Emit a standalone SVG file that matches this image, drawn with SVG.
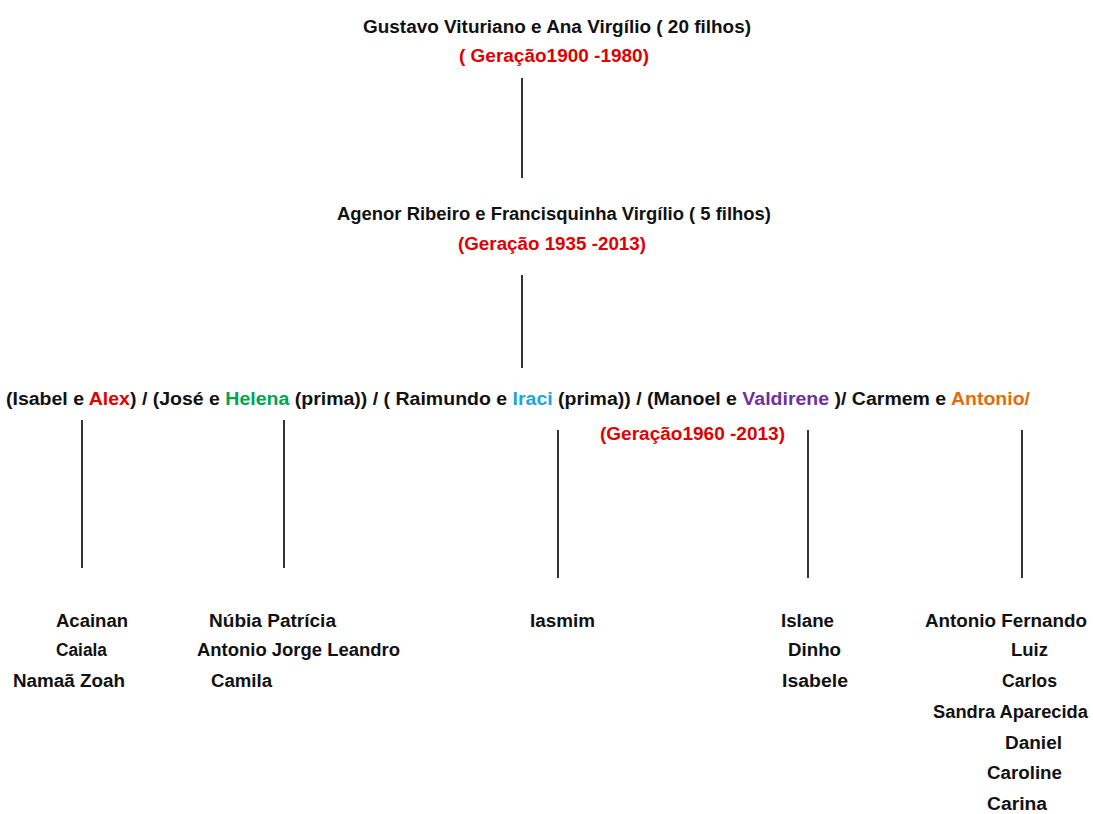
<svg xmlns="http://www.w3.org/2000/svg" width="1093" height="814" viewBox="0 0 1093 814">
<style>
text{font-family:"Liberation Sans",Arial,sans-serif;font-weight:bold;font-size:18px;fill:#111}
.red{fill:#e00000}
.green{fill:#00a550}
.cyan{fill:#1aa6d8}
.purple{fill:#7030a0}
.orange{fill:#e36c09}
.conn line{stroke:#000;stroke-width:1.6}
</style>
<rect width="1093" height="814" fill="#fff"/>
<g class="conn" id="connectors">
<line x1="522" y1="78" x2="522" y2="178"/>
<line x1="522" y1="275" x2="522" y2="368"/>
<line x1="82" y1="420" x2="82" y2="568"/>
<line x1="284" y1="420" x2="284" y2="568"/>
<line x1="558" y1="430" x2="558" y2="578"/>
<line x1="808" y1="430" x2="808" y2="578"/>
<line x1="1022" y1="430" x2="1022" y2="578"/>
</g>
<g id="gen1">
<text x="363" y="33" textLength="388" lengthAdjust="spacingAndGlyphs">Gustavo Vituriano e Ana Virgílio ( 20 filhos)</text>
<text class="red" x="459" y="62" textLength="190" lengthAdjust="spacingAndGlyphs">( Geração1900 -1980)</text>
</g>
<g id="gen2">
<text x="337" y="220" textLength="434" lengthAdjust="spacingAndGlyphs">Agenor Ribeiro e Francisquinha Virgílio ( 5 filhos)</text>
<text class="red" x="458" y="250" textLength="188" lengthAdjust="spacingAndGlyphs">(Geração 1935 -2013)</text>
</g>
<g id="gen3">
<text x="6" y="405" textLength="1024" lengthAdjust="spacingAndGlyphs">(Isabel e <tspan class="red">Alex</tspan>) / (José e <tspan class="green">Helena</tspan> (prima)) / ( Raimundo e <tspan class="cyan">Iraci</tspan> (prima)) / (Manoel e <tspan class="purple">Valdirene</tspan> )/ Carmem e <tspan class="orange">Antonio/</tspan></text>
<text class="red" x="600" y="440" textLength="185" lengthAdjust="spacingAndGlyphs">(Geração1960 -2013)</text>
</g>
<g id="children-isabel-alex">
<text x="56" y="627" textLength="72" lengthAdjust="spacingAndGlyphs">Acainan</text>
<text x="56" y="656" textLength="51" lengthAdjust="spacingAndGlyphs">Caiala</text>
<text x="13" y="687" textLength="112" lengthAdjust="spacingAndGlyphs">Namaã Zoah</text>
</g>
<g id="children-jose-helena">
<text x="209" y="627" textLength="127" lengthAdjust="spacingAndGlyphs">Núbia Patrícia</text>
<text x="197" y="656" textLength="203" lengthAdjust="spacingAndGlyphs">Antonio Jorge Leandro</text>
<text x="211" y="687" textLength="61" lengthAdjust="spacingAndGlyphs">Camila</text>
</g>
<g id="children-raimundo-iraci">
<text x="530" y="627" textLength="65" lengthAdjust="spacingAndGlyphs">Iasmim</text>
</g>
<g id="children-manoel-valdirene">
<text x="781" y="627" textLength="53" lengthAdjust="spacingAndGlyphs">Islane</text>
<text x="788" y="656" textLength="53" lengthAdjust="spacingAndGlyphs">Dinho</text>
<text x="782" y="687" textLength="66" lengthAdjust="spacingAndGlyphs">Isabele</text>
</g>
<g id="children-carmem-antonio">
<text x="925" y="627" textLength="162" lengthAdjust="spacingAndGlyphs">Antonio Fernando</text>
<text x="1011" y="656" textLength="37" lengthAdjust="spacingAndGlyphs">Luiz</text>
<text x="1002" y="687" textLength="55" lengthAdjust="spacingAndGlyphs">Carlos</text>
<text x="933" y="718" textLength="155" lengthAdjust="spacingAndGlyphs">Sandra Aparecida</text>
<text x="1005" y="749" textLength="57" lengthAdjust="spacingAndGlyphs">Daniel</text>
<text x="987" y="779" textLength="75" lengthAdjust="spacingAndGlyphs">Caroline</text>
<text x="987" y="810" textLength="60" lengthAdjust="spacingAndGlyphs">Carina</text>
</g>
</svg>
